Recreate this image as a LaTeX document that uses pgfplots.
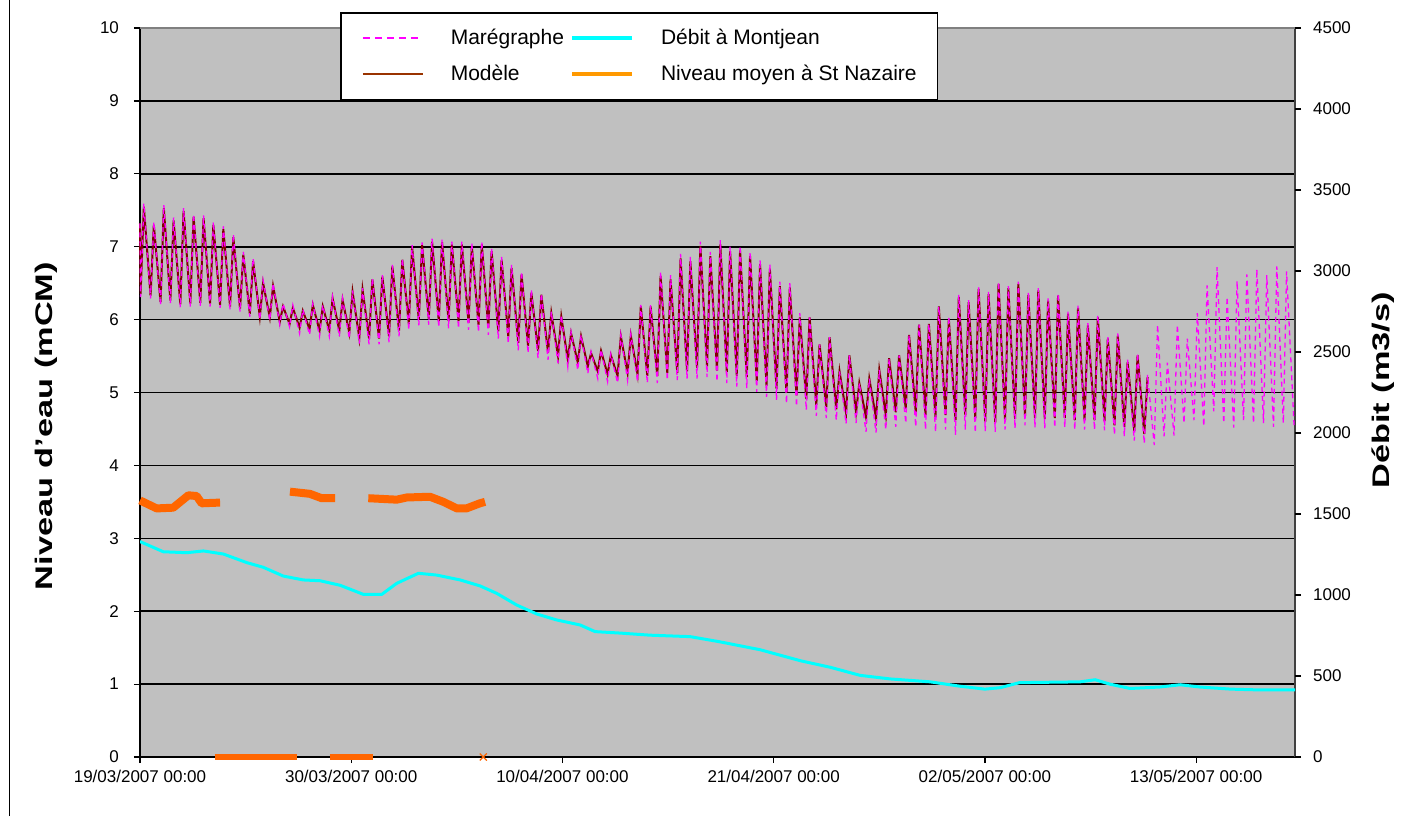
\documentclass[border=0pt]{standalone}
\usepackage{graphicx}
\usepackage{pgfplots}
\pgfplotsset{compat=1.18}
\usepackage{fontspec}
\setmainfont{Liberation Sans}
\definecolor{bggray}{RGB}{192,192,192}
\definecolor{mag}{RGB}{255,0,255}
\definecolor{modele}{RGB}{128,0,0}
\definecolor{cyanl}{RGB}{0,255,255}
\definecolor{orng}{RGB}{255,102,0}
\definecolor{orngleg}{RGB}{255,153,0}
\definecolor{brownleg}{RGB}{153,51,0}
\definecolor{rightax}{RGB}{64,64,64}
\definecolor{topax}{RGB}{128,128,128}
\begin{document}
\begin{tikzpicture}
\useasboundingbox (0,0) rectangle (701.5pt,408pt);
\draw[black,line width=0.6pt] (4.75pt,0) -- (4.75pt,408pt);
\pgfplotsset{
  common/.style={
    at={(70pt,29.5pt)}, anchor=south west,
    scale only axis, width=577.5pt, height=364.5pt,
    xmin=0, xmax=60.15,
    tick align=outside, major tick length=3pt,
    every tick/.style={black, line width=0.6pt},
    /pgf/number format/assume math mode=true,
    /pgf/number format/1000 sep={},
    ticklabel style={font=\fontsize{8.5}{10}\selectfont},
    label style={font=\bfseries\fontsize{12}{14}\selectfont},
  }
}
\begin{axis}[common,
  ymin=0, ymax=10, ytick={0,1,...,10},
  xtick={0,11,22,33,44,55},
  xticklabels={19/03/2007 00:00,30/03/2007 00:00,10/04/2007 00:00,21/04/2007 00:00,02/05/2007 00:00,13/05/2007 00:00},
  tick pos=left,
  axis line style={draw=none},
  axis background/.style={fill=bggray},
  ymajorgrids, grid style={black, line width=0.8pt},
  clip=false,
  yticklabel style={xshift=-4pt},
  xticklabel style={yshift=0pt},
  ylabel={\scalebox{1.43}[1]{Niveau d’eau (mCM)}},
  ylabel style={at={(axis description cs:-0.0814,0.454)}, anchor=center},
]
\draw[black, line width=0.6pt] (rel axis cs:0,1) -- (rel axis cs:0,0) -- (rel axis cs:1,0);
\draw[rightax, line width=0.6pt] (rel axis cs:1,0) -- (rel axis cs:1,1);
\draw[topax, line width=0.9pt] (rel axis cs:0,1) -- (rel axis cs:1,1);
% Modele
\addplot[modele, line width=1pt, no marks] coordinates {
(0.00,7.32)
(0.03,6.35)(0.20,7.55)(0.55,6.33)(0.72,7.30)(1.07,6.24)(1.24,7.53)(1.58,6.26)(1.75,7.36)
(2.10,6.21)(2.27,7.49)(2.62,6.22)(2.79,7.41)(3.14,6.23)(3.31,7.39)(3.65,6.22)(3.82,7.30)
(4.17,6.20)(4.34,7.24)(4.69,6.18)(4.86,7.13)(5.21,6.15)(5.38,6.89)(5.72,6.08)(5.89,6.80)
(6.24,6.04)(6.41,6.50)(6.76,6.03)(6.93,6.46)(7.28,5.97)(7.45,6.18)(7.79,5.94)(7.96,6.16)
(8.31,5.89)(8.48,6.12)(8.83,5.87)(9.00,6.20)(9.35,5.85)(9.52,6.18)(9.86,5.85)(10.03,6.29)
(10.38,5.85)(10.55,6.27)(10.90,5.82)(11.07,6.38)(11.42,5.75)(11.59,6.41)(11.93,5.74)(12.10,6.55)
(12.45,5.74)(12.62,6.59)(12.97,5.77)(13.14,6.73)(13.49,5.85)(13.66,6.82)(14.00,5.94)(14.17,7.00)
(14.52,6.00)(14.69,7.02)(15.04,6.01)(15.21,7.07)(15.56,5.98)(15.73,7.06)(16.07,5.98)(16.24,7.03)
(16.59,5.98)(16.76,7.03)(17.11,5.96)(17.28,7.01)(17.63,5.93)(17.80,7.03)(18.14,5.89)(18.31,6.94)
(18.66,5.84)(18.83,6.82)(19.18,5.77)(19.35,6.71)(19.70,5.68)(19.87,6.62)(20.21,5.64)(20.38,6.37)
(20.73,5.57)(20.90,6.34)(21.25,5.55)(21.42,6.09)(21.77,5.50)(21.94,6.04)(22.28,5.45)(22.45,5.81)
(22.80,5.41)(22.97,5.77)(23.32,5.36)(23.49,5.54)(23.84,5.29)(24.01,5.57)(24.35,5.25)(24.52,5.51)
(24.87,5.23)(25.04,5.77)(25.39,5.27)(25.56,5.78)(25.91,5.25)(26.08,6.18)(26.42,5.23)(26.59,6.18)
(26.94,5.23)(27.11,6.60)(27.46,5.27)(27.63,6.55)(27.98,5.27)(28.15,6.84)(28.49,5.29)(28.66,6.80)
(29.01,5.34)(29.18,7.01)(29.53,5.36)(29.70,6.87)(30.05,5.30)(30.22,7.03)(30.56,5.28)(30.73,6.94)
(31.08,5.23)(31.25,6.95)(31.60,5.21)(31.77,6.87)(32.12,5.16)(32.29,6.76)(32.63,5.09)(32.80,6.70)
(33.15,5.05)(33.32,6.46)(33.67,5.00)(33.84,6.44)(34.19,4.96)(34.36,6.03)(34.70,4.91)(34.87,6.03)
(35.22,4.83)(35.39,5.66)(35.74,4.80)(35.91,5.76)(36.26,4.77)(36.43,5.29)(36.77,4.72)(36.94,5.51)
(37.29,4.73)(37.46,5.13)(37.81,4.66)(37.98,5.19)(38.33,4.65)(38.50,5.31)(38.84,4.69)(39.01,5.47)
(39.36,4.73)(39.53,5.51)(39.88,4.78)(40.05,5.79)(40.40,4.73)(40.57,5.93)(40.91,4.69)(41.08,5.94)
(41.43,4.66)(41.60,6.18)(41.95,4.69)(42.12,6.01)(42.47,4.62)(42.64,6.31)(42.98,4.69)(43.15,6.24)
(43.50,4.65)(43.67,6.42)(44.02,4.60)(44.19,6.35)(44.54,4.59)(44.71,6.49)(45.05,4.62)(45.22,6.43)
(45.57,4.64)(45.74,6.49)(46.09,4.68)(46.26,6.34)(46.61,4.65)(46.78,6.40)(47.12,4.64)(47.29,6.26)
(47.64,4.65)(47.81,6.33)(48.16,4.65)(48.33,6.08)(48.68,4.62)(48.85,6.16)(49.19,4.62)(49.36,5.92)
(49.71,4.62)(49.88,6.03)(50.23,4.61)(50.40,5.74)(50.75,4.55)(50.92,5.78)(51.26,4.53)(51.43,5.42)
(51.78,4.47)(51.95,5.51)(52.30,4.43)(52.47,5.21)
};
% Maregraphe
\addplot[mag, line width=0.65pt, dash pattern=on 2.5pt off 2pt, no marks] coordinates {
(0.00,7.32)
(0.03,6.31)(0.20,7.59)(0.55,6.29)(0.72,7.34)(1.07,6.20)(1.24,7.57)(1.58,6.22)(1.75,7.40)
(2.10,6.17)(2.27,7.53)(2.62,6.18)(2.79,7.45)(3.14,6.19)(3.31,7.43)(3.65,6.18)(3.82,7.34)
(4.17,6.16)(4.34,7.28)(4.69,6.14)(4.86,7.17)(5.21,6.11)(5.38,6.93)(5.72,6.04)(5.89,6.84)
(6.24,6.00)(6.41,6.54)(6.76,5.99)(6.93,6.50)(7.28,5.93)(7.45,6.22)(7.79,5.90)(7.96,6.20)
(8.31,5.81)(8.48,6.14)(8.83,5.79)(9.00,6.22)(9.35,5.77)(9.52,6.20)(9.86,5.77)(10.03,6.31)
(10.38,5.77)(10.55,6.29)(10.90,5.74)(11.07,6.40)(11.42,5.67)(11.59,6.43)(11.93,5.66)(12.10,6.57)
(12.45,5.66)(12.62,6.61)(12.97,5.69)(13.14,6.75)(13.49,5.77)(13.66,6.84)(14.00,5.86)(14.17,7.02)
(14.52,5.92)(14.69,7.06)(15.04,5.93)(15.21,7.11)(15.56,5.90)(15.73,7.10)(16.07,5.88)(16.24,7.07)
(16.59,5.88)(16.76,7.07)(17.11,5.86)(17.28,7.05)(17.63,5.83)(17.80,7.07)(18.14,5.79)(18.31,6.98)
(18.66,5.74)(18.83,6.86)(19.18,5.67)(19.35,6.75)(19.70,5.58)(19.87,6.66)(20.21,5.54)(20.38,6.41)
(20.73,5.47)(20.90,6.36)(21.25,5.45)(21.42,6.11)(21.77,5.40)(21.94,6.06)(22.28,5.35)(22.45,5.83)
(22.80,5.31)(22.97,5.79)(23.32,5.26)(23.49,5.56)(23.84,5.19)(24.01,5.59)(24.35,5.15)(24.52,5.53)
(24.87,5.13)(25.04,5.79)(25.39,5.17)(25.56,5.80)(25.91,5.15)(26.08,6.20)(26.42,5.13)(26.59,6.20)
(26.94,5.13)(27.11,6.66)(27.46,5.17)(27.63,6.61)(27.98,5.17)(28.15,6.90)(28.49,5.19)(28.66,6.86)
(29.01,5.19)(29.18,7.07)(29.53,5.21)(29.70,6.93)(30.05,5.15)(30.22,7.09)(30.56,5.13)(30.73,7.00)
(31.08,5.08)(31.25,7.01)(31.60,5.06)(31.77,6.93)(32.12,5.01)(32.29,6.82)(32.63,4.94)(32.80,6.76)
(33.15,4.90)(33.32,6.52)(33.67,4.85)(33.84,6.50)(34.19,4.81)(34.36,6.09)(34.70,4.76)(34.87,6.03)
(35.22,4.68)(35.39,5.66)(35.74,4.65)(35.91,5.76)(36.26,4.62)(36.43,5.29)(36.77,4.57)(36.94,5.51)
(37.29,4.58)(37.46,5.13)(37.81,4.46)(37.98,5.19)(38.33,4.45)(38.50,5.31)(38.84,4.49)(39.01,5.47)
(39.36,4.53)(39.53,5.51)(39.88,4.58)(40.05,5.79)(40.40,4.53)(40.57,5.93)(40.91,4.49)(41.08,5.94)
(41.43,4.46)(41.60,6.18)(41.95,4.49)(42.12,6.04)(42.47,4.42)(42.64,6.34)(42.98,4.49)(43.15,6.27)
(43.50,4.45)(43.67,6.45)(44.02,4.47)(44.19,6.38)(44.54,4.46)(44.71,6.52)(45.05,4.49)(45.22,6.46)
(45.57,4.51)(45.74,6.52)(46.09,4.55)(46.26,6.37)(46.61,4.52)(46.78,6.43)(47.12,4.51)(47.29,6.29)
(47.64,4.52)(47.81,6.36)(48.16,4.52)(48.33,6.11)(48.68,4.49)(48.85,6.19)(49.19,4.49)(49.36,5.95)
(49.71,4.49)(49.88,6.06)(50.23,4.48)(50.40,5.77)(50.75,4.42)(50.92,5.81)(51.26,4.40)(51.43,5.45)
(51.78,4.34)(51.95,5.54)(52.30,4.30)(52.47,5.24)(52.82,4.28)(52.99,5.93)(53.33,4.40)(53.50,5.41)
(53.85,4.41)(54.02,5.93)(54.37,4.58)(54.54,5.74)(54.89,4.62)(55.06,6.09)(55.40,4.54)(55.57,6.47)
(55.92,4.74)(56.09,6.72)(56.44,4.58)(56.61,6.31)(56.96,4.52)(57.13,6.53)(57.47,4.62)(57.64,6.62)
(57.99,4.58)(58.16,6.69)(58.51,4.58)(58.68,6.61)(59.03,4.53)(59.20,6.73)(59.54,4.58)(59.71,6.66)
(60.10,4.55)
};
% Niveau moyen a St Nazaire
\addplot[orng, line width=4pt, line join=round, no marks] coordinates {
(0.00,3.52)(0.87,3.41)(1.73,3.42)(2.52,3.59)(2.95,3.58)(3.21,3.48)(4.17,3.49)};
\addplot[orng, line width=3pt, no marks] coordinates {(3.90,0)(8.16,0)};
\addplot[orng, line width=4pt, line join=round, no marks] coordinates {
(7.81,3.64)(8.85,3.61)(9.46,3.55)(10.16,3.55)};
\addplot[orng, line width=3pt, no marks] coordinates {(9.90,0)(12.15,0)};
\addplot[orng, line width=4pt, line join=round, no marks] coordinates {
(11.89,3.55)(13.37,3.53)(13.89,3.56)(15.10,3.57)(15.80,3.50)(16.50,3.41)(17.00,3.41)(17.70,3.48)(17.97,3.50)};
\addplot[orng, only marks, mark=x, mark size=2.5pt, mark options={line width=0.6pt}] coordinates {(17.88,0)};
\end{axis}
\begin{axis}[common,
  ymin=0, ymax=4500, ytick={0,500,...,4500},
  xtick=\empty,
  ytick pos=right, yticklabel pos=right,
  axis line style={draw=none},
  yticklabel style={xshift=2.5pt},
  ylabel={\scalebox{1.43}[1]{Débit (m3/s)}},
  ylabel style={at={(axis description cs:1.0762,0.503)}, anchor=center},
  legend columns=2,
  legend image code/.code={\draw[#1] (0pt,0pt) -- (30pt,0pt);},
  legend style={at={(axis description cs:0.1732,1.0219)}, anchor=north west,
    draw=black, line width=0.75pt, fill=white,
    inner xsep=10.5pt, inner ysep=8pt, row sep=9pt,
    font=\fontsize{10.5}{12}\selectfont,
    nodes={inner sep=0pt, anchor=west},
    /tikz/every odd column/.style={column sep=13.5pt},
    /tikz/every even column/.style={column sep=3pt}},
]
\addlegendimage{mag, line width=0.8pt, dash pattern=on 3.5pt off 2.5pt}
\addlegendentry{Marégraphe}
\addlegendimage{cyanl, line width=2pt}
\addlegendentry{Débit à Montjean}
\addlegendimage{brownleg, line width=1pt}
\addlegendentry{Modèle}
\addlegendimage{orngleg, line width=2pt}
\addlegendentry{Niveau moyen à St Nazaire}
\addplot[cyanl, line width=1.5pt, no marks, forget plot] coordinates {
(0,1330)(1.21,1267)(2.43,1261)(3.30,1272)(4.34,1253)(5.56,1200)(6.42,1171)(7.46,1117)(8.50,1093)
(9.38,1088)(10.42,1060)(11.63,1004)(12.59,1004)(13.37,1072)(14.50,1134)(15.45,1123)(16.67,1093)
(17.71,1056)(18.58,1010)(19.62,938)(20.66,883)(21.70,846)(22.92,815)(23.70,774)(25.00,765)
(26.56,752)(28.65,743)(30.20,711)(32.30,662)(34.40,594)(35.94,554)(37.50,504)(39.06,482)
(41.15,464)(42.70,437)(44.00,419)(44.80,428)(45.80,459)(48.96,464)(49.74,477)(50.50,450)
(51.56,423)(53.10,432)(54.17,446)(55.20,432)(56.80,419)(58.30,414)(60.15,414)
};
\end{axis}
\end{tikzpicture}
\end{document}
